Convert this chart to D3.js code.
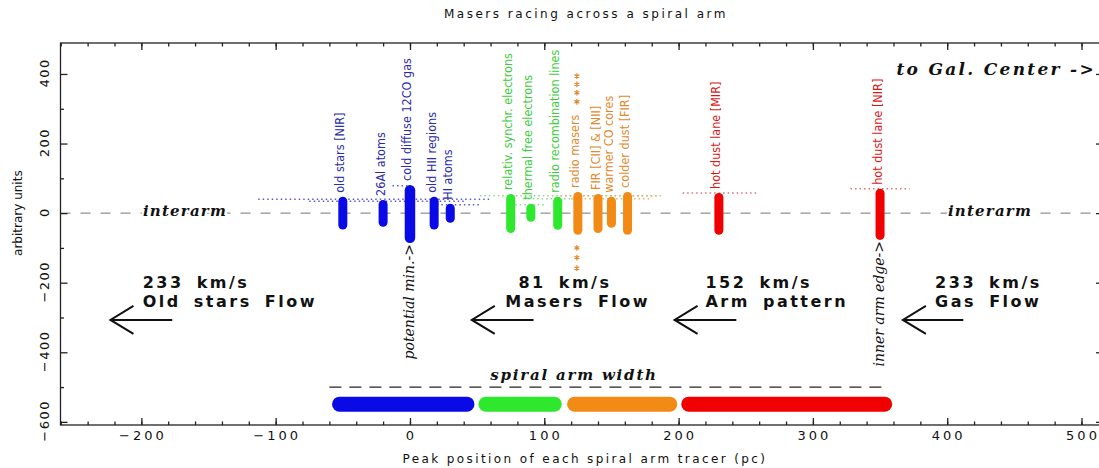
<!DOCTYPE html>
<html>
<head>
<meta charset="utf-8">
<script src="https://cdn.jsdelivr.net/npm/d3@7"></script>
<style>
  body { margin: 0; background: #fff; }
  svg { display: block; }
  .sans { font-family: 'DejaVu Sans', sans-serif; fill: #111; }
  .serif { font-family: 'DejaVu Serif', serif; font-style: italic; fill: #111; }
  .tracer { font-family: 'Liberation Sans Narrow', 'DejaVu Sans Condensed', sans-serif; font-size: 12.5px; }
</style>
</head>
<body>
<div id="d3-container"></div>
<script>
// tracers, peak positions (pc) and vertical extents (arbitrary units)
const tracers = ['old stars [NIR]', '26Al atoms', 'cold diffuse 12CO gas', 'old HII regions', 'HI atoms',
  'relativ. synchr. electrons', 'thermal free electrons', 'radio recombination lines',
  'radio masers', 'FIR [CII] & [NII]', 'warmer CO cores', 'colder dust [FIR]',
  'hot dust lane [MIR]', 'hot dust lane [NIR]']
const peakPos = [-50, -20, 0, 18, 30, 75, 90, 110, 125, 140, 150, 162, 230, 350]
const barTop = [47, 38, 81, 47, 27, 55, 27, 47, 61, 55, 47, 61, 58, 70]
const barBottom = [-47, -39, -86, -47, -28, -57, -25, -48, -62, -57, -42, -62, -62, -77]
const tracerGroup = [0, 0, 0, 0, 0, 1, 1, 1, 2, 2, 2, 2, 3, 3]

// groups: bar colour, label colour, dotted colour, spiral arm width segments
const groupColor = ['#0a0ae6', '#2ee82e', '#f28a16', '#f00000']
const groupLabelColor = ['#2c2ca6', '#3ccc3c', '#e0892c', '#d81818']
const groupDotColor = ['#5a5ad0', '#8fd88f', '#e6b070', '#e07070']
const segStart = [-58, 51, 117, 202]
const segEnd = [48, 113, 199, 359]
const segLevel = -549

// dotted uncertainty lines
const dotGroup = [0, 0, 0, 0, 1, 1, 1, 2, 2, 3, 3]
const dotLevel = [40, 34, 79, 24, 50, 24, 41, 50, 41, 58, 70]
const dotFrom = [-113, -75, -13, 20, 52, 75, 88, 112, 120, 203, 328]
const dotTo = [60, 40, -2, 52, 185, 100, 125, 188, 180, 258, 372]

// asterisks along the radio maser line
const maserStars = [394, 370, 346, 320, -100, -128, -158]

// flows
const flowSpeed = ['233 km/s', ' 81 km/s', '152 km/s', '233 km/s']
const flowName = ['Old stars Flow', 'Masers Flow', 'Arm pattern', 'Gas Flow']
const flowTextAt = [-199, 71, 220, 391]
const arrowTip = [-223, 46, 197, 367]
const arrowTail = [-177, 92, 243, 412]
const arrowLevel = -307

const xMajor = d3.range(-200, 501, 100)
const xMinor = d3.range(-260, 516, 20)
const yMajor = d3.range(-600, 401, 200)
const yMinor = d3.range(-500, 400, 200)

const width = 1099
const height = 468

const x = d3.scaleLinear().domain([-260.2, 516]).range([60.5, 1103])
const y = d3.scaleLinear().domain([-609, 489]).range([425, 43])

const svg = d3.select('#d3-container').append('svg')
  .attr('width', width).attr('height', height)

svg.append('text').attr('class', 'sans')
  .attr('x', 586).attr('y', 18).attr('text-anchor', 'middle')
  .attr('font-size', 12).attr('letter-spacing', 2.5)
  .text('Masers racing across a spiral arm')

// interarm reference line
svg.append('line')
  .attr('x1', x.range()[0]).attr('x2', x.range()[1])
  .attr('y1', y(0)).attr('y2', y(0))
  .attr('stroke', '#777').attr('stroke-width', 1).attr('stroke-dasharray', '10,10')

function axes() {
  const axisStyle = g => {
    g.select('.domain').remove()
    g.selectAll('line').attr('stroke', '#222').attr('stroke-width', 1.3)
  }
  svg.append('g').attr('transform', `translate(0,${y.range()[0]})`)
    .call(d3.axisBottom(x).tickValues(xMajor).tickSize(-7).tickFormat('')).call(axisStyle)
  svg.append('g').attr('transform', `translate(0,${y.range()[0]})`)
    .call(d3.axisBottom(x).tickValues(xMinor).tickSize(-3.5).tickFormat('')).call(axisStyle)
  svg.append('g').attr('transform', `translate(0,${y.range()[1]})`)
    .call(d3.axisTop(x).tickValues(xMajor).tickSize(-7).tickFormat('')).call(axisStyle)
  svg.append('g').attr('transform', `translate(0,${y.range()[1]})`)
    .call(d3.axisTop(x).tickValues(xMinor).tickSize(-3.5).tickFormat('')).call(axisStyle)
  svg.append('g').attr('transform', `translate(${x.range()[0]},0)`)
    .call(d3.axisLeft(y).tickValues(yMajor).tickSize(-7).tickFormat('')).call(axisStyle)
  svg.append('g').attr('transform', `translate(${x.range()[0]},0)`)
    .call(d3.axisLeft(y).tickValues(yMinor).tickSize(-3.5).tickFormat('')).call(axisStyle)
  svg.append('g').attr('transform', `translate(${x.range()[1]},0)`)
    .call(d3.axisRight(y).tickValues(yMajor).tickSize(-7).tickFormat('')).call(axisStyle)
  svg.append('g').attr('transform', `translate(${x.range()[1]},0)`)
    .call(d3.axisRight(y).tickValues(yMinor).tickSize(-3.5).tickFormat('')).call(axisStyle)

  svg.append('rect')
    .attr('x', x.range()[0]).attr('y', y.range()[1])
    .attr('width', x.range()[1] - x.range()[0]).attr('height', y.range()[0] - y.range()[1])
    .attr('fill', 'none').attr('stroke', '#222').attr('stroke-width', 1.3)

  const fmt = d3.format('d')
  svg.append('g').selectAll('text').data(xMajor).join('text')
    .attr('class', 'sans').attr('font-size', 13).attr('letter-spacing', 3)
    .attr('text-anchor', 'middle')
    .attr('x', d => x(d) + 1.5).attr('y', 440)
    .text(fmt)
  svg.append('g').selectAll('text').data(yMajor).join('text')
    .attr('class', 'sans').attr('font-size', 13).attr('letter-spacing', 1.5)
    .attr('text-anchor', 'middle')
    .attr('transform', d => `translate(49,${y(d) - 1}) rotate(-90)`)
    .text(fmt)

  svg.append('text').attr('class', 'sans')
    .attr('font-size', 12).attr('letter-spacing', 2.4).attr('text-anchor', 'middle')
    .attr('x', 585).attr('y', 463)
    .text('Peak position of each spiral arm tracer (pc)')
  svg.append('text').attr('class', 'sans')
    .attr('font-size', 12).attr('text-anchor', 'middle')
    .attr('transform', `translate(22,${y(0)}) rotate(-90)`)
    .text('arbitrary units')
}

axes()

// labels in bold italic serif
const serifLabel = (txt, px, py, size, spacing, anchor) =>
  svg.append('text').attr('class', 'serif')
    .attr('font-weight', 'bold').attr('font-size', size)
    .attr('letter-spacing', spacing)
    .attr('text-anchor', anchor || 'middle')
    .attr('x', px).attr('y', py)
    .attr('stroke', '#fff').attr('stroke-width', 4).attr('paint-order', 'stroke')
    .text(txt)

serifLabel('interarm', 185, 216, 15, 1.2)
serifLabel('interarm', 990, 216, 15, 1.2)
serifLabel('to Gal. Center ->', 1096, 75, 17, 2.3, 'end')

// dotted uncertainty lines
svg.append('g').selectAll('line').data(dotLevel).join('line')
  .attr('x1', (d, i) => x(dotFrom[i])).attr('x2', (d, i) => x(dotTo[i]))
  .attr('y1', d => y(d)).attr('y2', d => y(d))
  .attr('stroke', (d, i) => groupDotColor[dotGroup[i]])
  .attr('stroke-width', 1.5).attr('stroke-dasharray', '1.5,3')

// tracer bars
const barW = i => (i === 2 ? 10.5 : 9)
svg.append('g').selectAll('rect').data(peakPos).join('rect')
  .attr('x', (d, i) => x(d) - barW(i) / 2)
  .attr('width', (d, i) => barW(i))
  .attr('y', (d, i) => y(barTop[i]))
  .attr('height', (d, i) => y(barBottom[i]) - y(barTop[i]))
  .attr('rx', (d, i) => barW(i) / 2)
  .attr('fill', (d, i) => groupColor[tracerGroup[i]])

svg.append('g').selectAll('text').data(tracers).join('text')
  .attr('class', 'tracer')
  .attr('fill', (d, i) => groupLabelColor[tracerGroup[i]])
  .attr('transform', (d, i) => `translate(${x(peakPos[i]) + 1.5},${y(barTop[i]) - 4}) rotate(-90)`)
  .text(d => d)

svg.append('g').selectAll('path').data(maserStars).join('path')
  .attr('d', d3.symbol(d3.symbolAsterisk, 22))
  .attr('transform', d => `translate(${x(peakPos[8]) - 1},${y(d)})`)
  .attr('fill', 'none').attr('stroke', groupLabelColor[2]).attr('stroke-width', 1.2)

// vertical markers under the bars
const markerLabel = (txt, pos, bottom) =>
  svg.append('text').attr('class', 'serif')
    .attr('font-size', 14).attr('text-anchor', 'end')
    .attr('transform', `translate(${x(pos) + 4},${y(bottom) + 1}) rotate(-90)`)
    .text(txt)
markerLabel('potential min.->', peakPos[2], barBottom[2])
markerLabel('inner arm edge->', peakPos[13], barBottom[13])

// flows: two lines in one text
const flows = svg.append('g')
flows.selectAll('text').data(flowSpeed).join('text')
  .attr('class', 'sans').attr('font-size', 16).attr('font-weight', 'bold')
  .attr('letter-spacing', 2.5).attr('word-spacing', 5)
  .attr('xml:space', 'preserve')
  .each(function (d, i) {
    const t = d3.select(this)
    t.append('tspan').attr('x', x(flowTextAt[i])).attr('y', y(-215)).text(d)
    t.append('tspan').attr('x', x(flowTextAt[i])).attr('y', y(-270)).text(flowName[i])
  })

const arrow = d3.line()
flows.selectAll('path').data(arrowTip).join('path')
  .attr('d', (d, i) => {
    const tx = x(d), ty = y(arrowLevel)
    return arrow([[x(arrowTail[i]), ty], [tx, ty]]) +
      arrow([[tx + 23, ty - 14], [tx, ty], [tx + 23, ty + 14]])
  })
  .attr('fill', 'none').attr('stroke', '#111').attr('stroke-width', 2)

// spiral arm width
svg.append('line')
  .attr('x1', x(segStart[0] - 2)).attr('x2', x(segEnd[3] - 3))
  .attr('y1', y(-500)).attr('y2', y(-500))
  .attr('stroke', '#222').attr('stroke-width', 1.3).attr('stroke-dasharray', '12,8')
serifLabel('spiral arm width', 574, 380, 15, 1.8)

svg.append('g').selectAll('rect').data(segStart).join('rect')
  .attr('x', d => x(d))
  .attr('width', (d, i) => x(segEnd[i]) - x(d))
  .attr('y', y(segLevel) - 7.5).attr('height', 15).attr('rx', 7.5)
  .attr('fill', (d, i) => groupColor[i])
</script>
</body>
</html>
